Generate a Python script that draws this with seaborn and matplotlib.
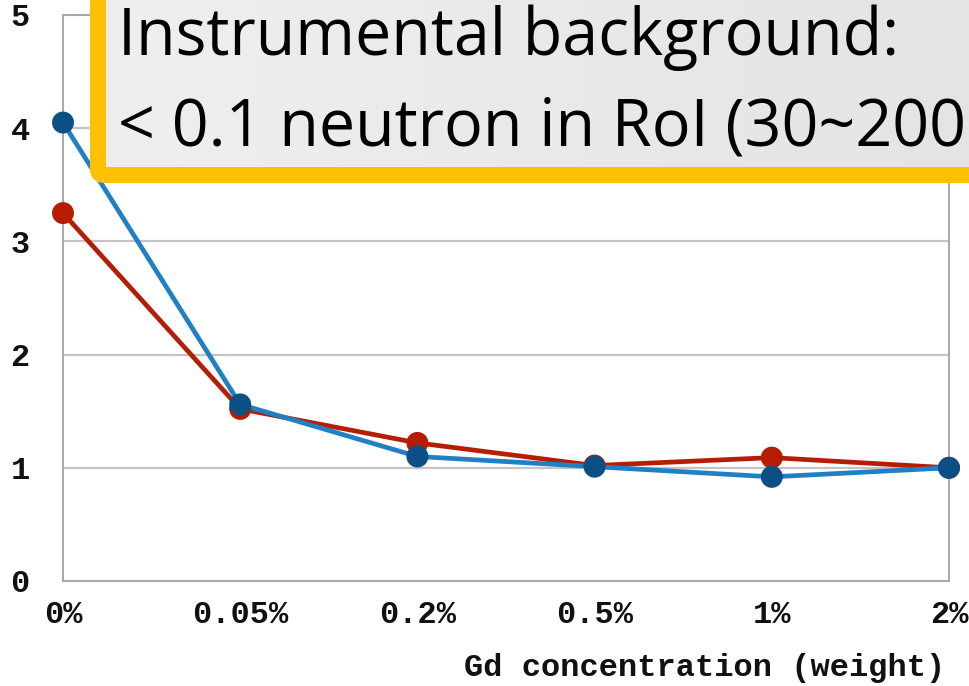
import numpy as np
import pandas as pd
import matplotlib
matplotlib.use("Agg")
import matplotlib.pyplot as plt
import seaborn as sns
from matplotlib.patches import FancyBboxPatch

# ---- data ----
concentrations = ["0%", "0.05%", "0.2%", "0.5%", "1%", "2%"]
red_values = [3.25, 1.52, 1.22, 1.02, 1.09, 1.00]
blue_values = [4.05, 1.56, 1.10, 1.01, 0.92, 1.00]
y_ticks = [0, 1, 2, 3, 4, 5]
x_label = "Gd concentration (weight)"
box_lines = ["Instrumental background:", "< 0.1 neutron in RoI (30~200"]

sns.set_theme(style="white")

W, H = 969, 686
fig = plt.figure(figsize=(W / 100, H / 100), dpi=100)
ax = fig.add_axes([63 / W, 1 - 581 / H, (949 - 63) / W, (581 - 15) / H])

pos = list(range(len(concentrations)))
df = pd.DataFrame({
    "pos": pos * 2,
    "value": red_values + blue_values,
    "series": ["red"] * len(pos) + ["blue"] * len(pos),
})

line_cols = {"red": "#B51E06", "blue": "#1F80C4"}
mark_cols = {"red": "#B81C00", "blue": "#0B4F84"}

for s in ["red", "blue"]:
    sub = df[df.series == s]
    sns.lineplot(data=sub, x="pos", y="value", color=line_cols[s], lw=3.4,
                 ax=ax, zorder=3, legend=False)
    sns.scatterplot(data=sub, x="pos", y="value", color=mark_cols[s], s=250,
                    edgecolor="none", ax=ax, zorder=4, legend=False,
                    clip_on=False)

ax.set_xlim(0, len(concentrations) - 1)
ax.set_ylim(0, 5)
ax.set_xticks(pos)
ax.set_xticklabels(concentrations)
ax.set_yticks(y_ticks)
ax.set_yticklabels([str(v) for v in y_ticks])
ax.set_xlabel("")
ax.set_ylabel("")
ax.yaxis.grid(True, color="#C4C4C4", lw=1.6)
ax.xaxis.grid(False)
ax.set_axisbelow(True)
for sp in ax.spines.values():
    sp.set_color("#A8A8A8")
    sp.set_linewidth(1.4)
ax.tick_params(axis="both", length=0)
ax.tick_params(axis="x", pad=14)
ax.tick_params(axis="y", pad=24)
for lab in ax.get_xticklabels() + ax.get_yticklabels():
    lab.set_fontfamily("Liberation Mono")
    lab.set_fontweight("bold")
    lab.set_fontsize(23)
    lab.set_color("#111111")

fig.text(945 / W, 1 - 668 / H, x_label, ha="right", va="center",
         fontfamily="Liberation Mono", fontweight="bold", fontsize=23,
         color="#111111")

# ---- overlay text box ----
bx0, by0 = 98, 175  # pixel (from top) of border centre, bottom-left
gax = fig.add_axes([bx0 / W, 1 - by0 / H, 1.0, by0 / H + 0.05], zorder=10)
grad = np.linspace(0, 1, 256)[None, :]
gax.imshow(grad, aspect="auto", cmap=matplotlib.colors.LinearSegmentedColormap.from_list(
    "g", ["#EFEFEF", "#E3E3E3"]), extent=[0, 1, 0, 1])
gax.set_axis_off()

border = FancyBboxPatch((bx0, H - by0), 1200, 400,
                        boxstyle="round,pad=0,rounding_size=6",
                        transform=None, fill=False, edgecolor="#FFC000",
                        lw=11.5, zorder=11)
fig.patches.append(border)

fig.text(118 / W, 1 - 55 / H, box_lines[0], ha="left", va="baseline",
         fontfamily="Open Sans", fontsize=46.5, color="black", zorder=12)
fig.text(118 / W, 1 - 145 / H, box_lines[1], ha="left", va="baseline",
         fontfamily="Open Sans", fontsize=46.5, color="black", zorder=12)

fig.savefig("out.png", dpi=100)
